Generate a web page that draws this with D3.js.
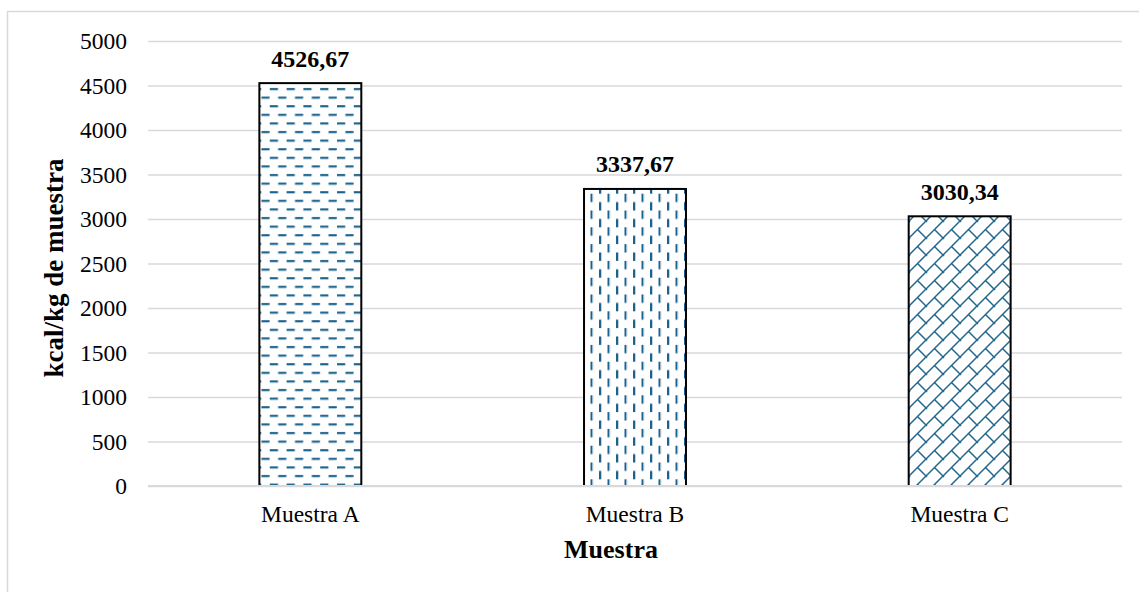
<!DOCTYPE html>
<html>
<head>
<meta charset="utf-8">
<script src="https://cdn.jsdelivr.net/npm/d3@7"></script>
<style>
  body { margin: 0; background: #fff; }
  svg text { font-family: "Liberation Serif", "Times New Roman", serif; }
</style>
</head>
<body>
<div id="chart"></div>
<script>
// Chart data
let categories = ['Muestra A', 'Muestra B', 'Muestra C'];
let values = [4526.67, 3337.67, 3030.34];
let patterns = ['dash-h', 'dash-v', 'brick'];
let yTicks = [0, 500, 1000, 1500, 2000, 2500, 3000, 3500, 4000, 4500, 5000];

let xTitle = 'Muestra',
    yTitle = 'kcal/kg de muestra';

let svgWidth = 1139,
    svgHeight = 592;

let plot = { left: 148, right: 1122, top: 41, bottom: 486 };

let ink = '#1c628b';
let grid = '#d9d9d9';

// decimal comma, no thousands separator
let fmt = d3.formatLocale({ decimal: ',', thousands: '', grouping: [3], currency: ['', ''] }).format('.2f');

let svg = d3.select('#chart')
    .append('svg')
    .attr('width', svgWidth)
    .attr('height', svgHeight);

// Fill patterns
let defs = svg.append('defs');

// horizontal dashes, alternating rows
let pH = defs.append('pattern')
    .attr('id', 'dash-h')
    .attr('patternUnits', 'userSpaceOnUse')
    .attr('width', 16.8)
    .attr('height', 17.2);
pH.append('rect').attr('width', 16.8).attr('height', 17.2).attr('fill', '#fff');
pH.append('rect').attr('x', 1).attr('y', 2).attr('width', 8.2).attr('height', 2).attr('fill', ink);
pH.append('rect').attr('x', 9.4).attr('y', 10.6).attr('width', 8.2).attr('height', 2).attr('fill', ink);
pH.append('rect').attr('x', -7.4).attr('y', 10.6).attr('width', 8.2).attr('height', 2).attr('fill', ink);
pH.append('rect').attr('x', 1).attr('y', 4).attr('width', 8.2).attr('height', 0.8).attr('fill', '#a9c8da');
pH.append('rect').attr('x', 9.4).attr('y', 12.6).attr('width', 8.2).attr('height', 0.8).attr('fill', '#a9c8da');

// vertical dashes, alternating columns
let pV = defs.append('pattern')
    .attr('id', 'dash-v')
    .attr('patternUnits', 'userSpaceOnUse')
    .attr('x', 2)
    .attr('width', 17.0)
    .attr('height', 16.8);
pV.append('rect').attr('width', 17.0).attr('height', 16.8).attr('fill', '#fff');
pV.append('rect').attr('x', 2).attr('y', 0.5).attr('width', 2).attr('height', 8.4).attr('fill', ink);
pV.append('rect').attr('x', 10.5).attr('y', 8.9).attr('width', 2).attr('height', 8.4).attr('fill', ink);
pV.append('rect').attr('x', 10.5).attr('y', -7.9).attr('width', 2).attr('height', 8.4).attr('fill', ink);
pV.append('rect').attr('x', 4).attr('y', 0.5).attr('width', 0.8).attr('height', 8.4).attr('fill', '#a9c8da');
pV.append('rect').attr('x', 12.5).attr('y', 8.9).attr('width', 0.8).attr('height', 8.4).attr('fill', '#a9c8da');

// diagonal brick
let s = 17;
let pB = defs.append('pattern')
    .attr('id', 'brick')
    .attr('patternUnits', 'userSpaceOnUse')
    .attr('x', 909)
    .attr('width', s)
    .attr('height', s);
pB.append('rect').attr('width', s).attr('height', s).attr('fill', '#fff');
pB.append('path')
    .attr('d', `M-2,${s + 2} L${s + 2},-2 M${s / 2},${s / 2} L${s + 1},${s + 1} M-1,-1 L1,1`)
    .attr('stroke', '#23688f')
    .attr('stroke-width', 1.5)
    .attr('fill', 'none');

// Outer border
svg.append('rect')
    .attr('x', 7.5)
    .attr('y', 11.5)
    .attr('width', 1150)
    .attr('height', 600)
    .attr('fill', 'none')
    .attr('stroke', grid)
    .attr('stroke-width', 1.5);

// Scales
let x = d3.scaleBand()
    .domain(categories)
    .range([plot.left, plot.right])
    .paddingInner(0.686)
    .paddingOuter(0.343);

let y = d3.scaleLinear()
    .domain([0, 5000])
    .range([plot.bottom, plot.top]);

// Gridlines + y labels
let yAxis = d3.axisLeft(y)
    .tickValues(yTicks)
    .tickSize(-(plot.right - plot.left))
    .tickPadding(21)
    .tickFormat(d3.format('d'));

let yG = svg.append('g')
    .attr('transform', `translate(${plot.left},0)`)
    .call(yAxis);
yG.select('.domain').remove();
yG.selectAll('.tick line')
    .attr('stroke', grid)
    .attr('stroke-width', 1.5);
yG.selectAll('.tick text')
    .attr('fill', '#000')
    .style('font-size', '23.5px')
    .style('font-family', '"Liberation Serif", serif');

// Bars
svg.append('g')
    .selectAll('rect')
    .data(values)
    .enter()
    .append('rect')
    .attr('x', (d, i) => x(categories[i]))
    .attr('y', d => y(d))
    .attr('width', x.bandwidth())
    .attr('height', d => y(0) - y(d))
    .attr('fill', (d, i) => `url(#${patterns[i]})`)
    .attr('stroke', '#000')
    .attr('stroke-width', 2);

// baseline over bar bottoms
svg.append('line')
    .attr('x1', plot.left)
    .attr('x2', plot.right)
    .attr('y1', y(0))
    .attr('y2', y(0))
    .attr('stroke', grid)
    .attr('stroke-width', 2);

// Value labels
svg.append('g')
    .selectAll('text')
    .data(values)
    .enter()
    .append('text')
    .attr('x', (d, i) => x(categories[i]) + x.bandwidth() / 2)
    .attr('y', d => y(d) - 16.5)
    .attr('text-anchor', 'middle')
    .style('font-size', '24px')
    .style('font-weight', 'bold')
    .text(d => fmt(d));

// Category labels
svg.append('g')
    .selectAll('text')
    .data(categories)
    .enter()
    .append('text')
    .attr('x', d => x(d) + x.bandwidth() / 2)
    .attr('y', 522)
    .attr('text-anchor', 'middle')
    .style('font-size', '23.5px')
    .text(d => d);

// Axis titles
svg.append('text')
    .attr('x', 611)
    .attr('y', 558)
    .attr('text-anchor', 'middle')
    .style('font-size', '26px')
    .style('font-weight', 'bold')
    .text(xTitle);

svg.append('text')
    .attr('transform', `translate(63,268) rotate(-90)`)
    .attr('text-anchor', 'middle')
    .style('font-size', '27px')
    .style('font-weight', 'bold')
    .text(yTitle);
</script>
</body>
</html>
